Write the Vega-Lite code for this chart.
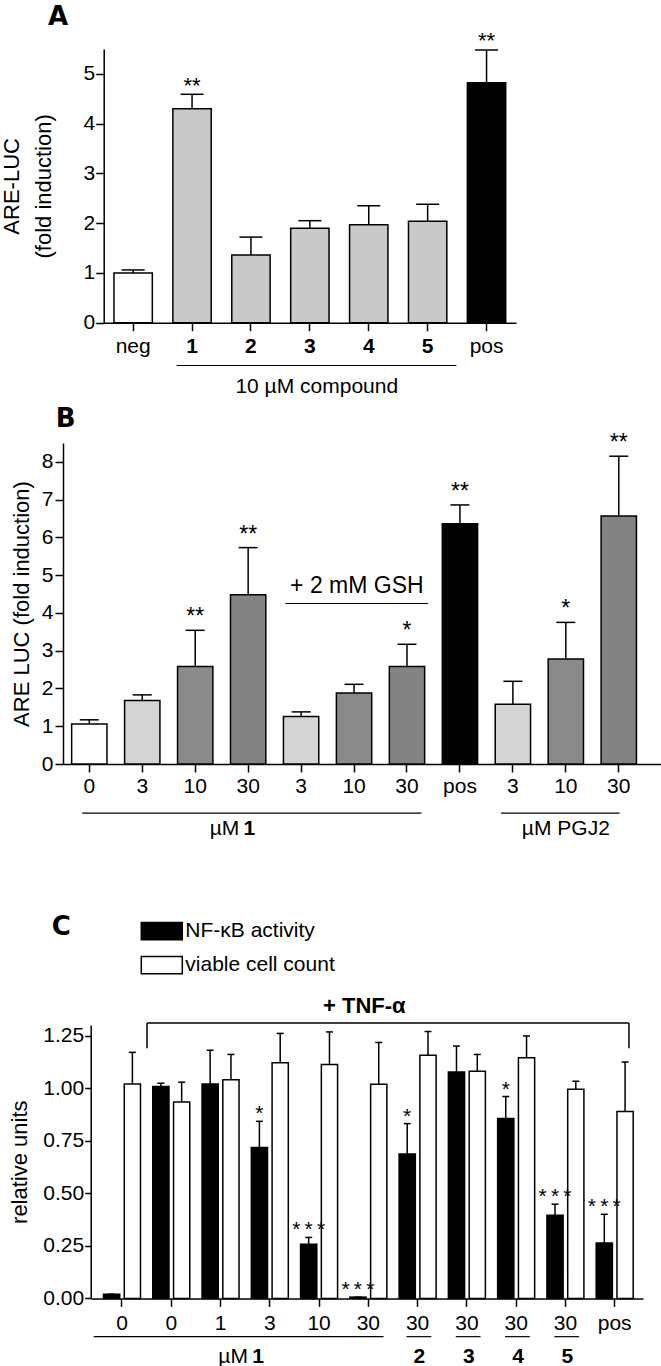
{
"$schema":"https://vega.github.io/schema/vega-lite/v6.json",
"background":"white",
"padding":{"left":0,"top":4,"right":0,"bottom":0},
"config":{
 "font":"Liberation Sans",
 "view":{"stroke":null},
 "axis":{"domainColor":"#000","domainWidth":1.5,"tickColor":"#000","tickWidth":1.5,"tickSize":8,"labelColor":"#000","labelFont":"Liberation Sans","labelFontSize":21,"titleFont":"Liberation Sans","titleFontSize":22,"titleFontWeight":"normal","titleColor":"#000","grid":false,"labelAngle":0,"labelOverlap":false},
 "title":{"font":"DejaVu Sans","fontSize":26,"fontWeight":"bold","color":"#000","anchor":"start","frame":"group"},
 "text":{"font":"Liberation Sans","color":"#000"},
 "rule":{"color":"#000","strokeWidth":1.5},
 "tick":{"color":"#000","thickness":1.5,"opacity":1}
},
"resolve":{"scale":{"color":"independent"},"legend":{"color":"independent"}},
"datasets":{
 "A":[
  {"cat":"neg","kind":"neg","value":1.00,"err":1.06,"sig":""},
  {"cat":"1","kind":"cmp","value":4.30,"err":4.59,"sig":"**"},
  {"cat":"2","kind":"cmp","value":1.36,"err":1.72,"sig":""},
  {"cat":"3","kind":"cmp","value":1.90,"err":2.05,"sig":""},
  {"cat":"4","kind":"cmp","value":1.97,"err":2.35,"sig":""},
  {"cat":"5","kind":"cmp","value":2.04,"err":2.38,"sig":""},
  {"cat":"pos","kind":"pos","value":4.82,"err":5.48,"sig":"**"}
 ],
 "B":[
  {"cat":"a|0","kind":"0","value":1.06,"err":1.17,"sig":""},
  {"cat":"a|3","kind":"3","value":1.68,"err":1.83,"sig":""},
  {"cat":"a|10","kind":"10","value":2.58,"err":3.54,"sig":"**"},
  {"cat":"a|30","kind":"30","value":4.48,"err":5.73,"sig":"**"},
  {"cat":"g|3","kind":"3","value":1.26,"err":1.38,"sig":""},
  {"cat":"g|10","kind":"10","value":1.88,"err":2.11,"sig":""},
  {"cat":"g|30","kind":"30","value":2.58,"err":3.17,"sig":"*"},
  {"cat":"pos|pos","kind":"pos","value":6.36,"err":6.86,"sig":"**"},
  {"cat":"p|3","kind":"3","value":1.58,"err":2.19,"sig":""},
  {"cat":"p|10","kind":"10","value":2.78,"err":3.75,"sig":"*"},
  {"cat":"p|30","kind":"30","value":6.57,"err":8.15,"sig":"**"}
 ],
 "C":[
  {"grp":"n|0","series":"NF-κB activity","value":0.02,"err":0.02,"sig":""},
  {"grp":"n|0","series":"viable cell count","value":1.02,"err":1.17,"sig":""},
  {"grp":"t|0","series":"NF-κB activity","value":1.007,"err":1.023,"sig":""},
  {"grp":"t|0","series":"viable cell count","value":0.934,"err":1.028,"sig":""},
  {"grp":"t|1","series":"NF-κB activity","value":1.02,"err":1.18,"sig":""},
  {"grp":"t|1","series":"viable cell count","value":1.04,"err":1.16,"sig":""},
  {"grp":"t|3","series":"NF-κB activity","value":0.717,"err":0.842,"sig":"*"},
  {"grp":"t|3","series":"viable cell count","value":1.12,"err":1.26,"sig":""},
  {"grp":"t|10","series":"NF-κB activity","value":0.257,"err":0.29,"sig":"*\u2009*\u2009*"},
  {"grp":"t|10","series":"viable cell count","value":1.112,"err":1.267,"sig":""},
  {"grp":"t|30","series":"NF-κB activity","value":0.006,"err":0.006,"sig":"*\u2009*\u2009*"},
  {"grp":"t|30","series":"viable cell count","value":1.018,"err":1.217,"sig":""},
  {"grp":"2|30","series":"NF-κB activity","value":0.687,"err":0.831,"sig":"*"},
  {"grp":"2|30","series":"viable cell count","value":1.156,"err":1.269,"sig":""},
  {"grp":"3|30","series":"NF-κB activity","value":1.077,"err":1.2,"sig":""},
  {"grp":"3|30","series":"viable cell count","value":1.08,"err":1.16,"sig":""},
  {"grp":"4|30","series":"NF-κB activity","value":0.856,"err":0.96,"sig":"*"},
  {"grp":"4|30","series":"viable cell count","value":1.144,"err":1.248,"sig":""},
  {"grp":"5|30","series":"NF-κB activity","value":0.395,"err":0.448,"sig":"*\u2009*\u2009*"},
  {"grp":"5|30","series":"viable cell count","value":0.994,"err":1.033,"sig":""},
  {"grp":"pos|pos","series":"NF-κB activity","value":0.263,"err":0.4,"sig":"*\u2009*\u2009*"},
  {"grp":"pos|pos","series":"viable cell count","value":0.889,"err":1.124,"sig":""}
 ]
},
"spacing":70,
"vconcat":[
 {"spacing":8,"resolve":{"scale":{"color":"independent"},"legend":{"color":"independent"}},"vconcat":[
  {
   "width":453,"height":273.7,
   "title":{"text":"A","dx":-15,"offset":0},
   "data":{"name":"A"},
   "layer":[
    {"mark":{"type":"bar","stroke":"#000","strokeWidth":1.5},
     "encoding":{
      "x":{"field":"cat","type":"nominal",
        "scale":{"domain":["neg","1","2","3","4","5","pos"],"range":[40.7,453],"paddingInner":0.349,"paddingOuter":0.1745},
        "axis":{"title":null,"labelPadding":5,"labelFontWeight":{"condition":{"test":"indexof(['1','2','3','4','5'], datum.value) >= 0","value":"bold"},"value":"normal"}}},
      "y":{"field":"value","type":"quantitative",
        "scale":{"domain":[0,5.5],"nice":false},
        "axis":{"title":["ARE-LUC","(fold induction)"],"offset":-40.7,"values":[0,1,2,3,4,5],"titleX":-85.4,"titleBaseline":"alphabetic","titleLineHeight":32,"labelPadding":1}},
      "color":{"field":"kind","type":"nominal","scale":{"domain":["neg","cmp","pos"],"range":["#ffffff","#c9c9c9","#000000"]},"legend":null}}},
    {"mark":"rule","encoding":{"x":{"field":"cat","type":"nominal"},"y":{"field":"value","type":"quantitative"},"y2":{"field":"err"}}},
    {"mark":{"type":"tick","size":23},"encoding":{"x":{"field":"cat","type":"nominal"},"y":{"field":"err","type":"quantitative"}}},
    {"transform":[{"filter":"datum.sig != ''"}],"mark":{"type":"text","fontSize":22,"baseline":"alphabetic","dy":-1.5},"encoding":{"x":{"field":"cat","type":"nominal"},"y":{"field":"err","type":"quantitative"},"text":{"field":"sig"}}},
    {"data":{"values":[{"from":"1","to":"5"}]},"mark":{"type":"rule","strokeWidth":1.2},"encoding":{"x":{"field":"from","type":"nominal","bandPosition":0.1},"x2":{"field":"to","bandPosition":1.25},"y":{"datum":-0.86}}},
    {"data":{"values":[{"mid":"3","label":"10 µM compound"}]},"mark":{"type":"text","fontSize":21,"baseline":"middle"},"encoding":{"x":{"field":"mid","type":"nominal","bandPosition":0.68},"y":{"datum":-1.30},"text":{"field":"label"}}}
   ]
  },
  {
   "width":601,"height":321,
   "title":{"text":"B","dx":-7.3,"offset":0},
   "data":{"name":"B"},
   "layer":[
    {"mark":{"type":"bar","stroke":"#000","strokeWidth":1.5},
     "encoding":{
      "x":{"field":"cat","type":"nominal",
        "scale":{"domain":["a|0","a|3","a|10","a|30","g|3","g|10","g|30","pos|pos","p|3","p|10","p|30"],"paddingInner":0.333,"paddingOuter":0.342,"align":0.239},
        "axis":{"title":null,"labelExpr":"split(datum.value,'|')[1]","labelPadding":3}},
      "y":{"field":"value","type":"quantitative",
        "scale":{"domain":[0,8.5],"nice":false},
        "axis":{"title":"ARE LUC (fold induction)","values":[0,1,2,3,4,5,6,7,8],"titleX":-35,"titleBaseline":"alphabetic","labelPadding":2}},
      "color":{"field":"kind","type":"nominal","scale":{"domain":["0","3","10","30","pos"],"range":["#ffffff","#d4d4d4","#8a8a8a","#838383","#000000"]},"legend":null}}},
    {"mark":"rule","encoding":{"x":{"field":"cat","type":"nominal"},"y":{"field":"value","type":"quantitative"},"y2":{"field":"err"}}},
    {"mark":{"type":"tick","size":19},"encoding":{"x":{"field":"cat","type":"nominal"},"y":{"field":"err","type":"quantitative"}}},
    {"transform":[{"filter":"datum.sig != ''"}],"mark":{"type":"text","fontSize":23,"baseline":"alphabetic","dy":-6},"encoding":{"x":{"field":"cat","type":"nominal"},"y":{"field":"err","type":"quantitative"},"text":{"field":"sig"}}},
    {"data":{"values":[{"at":"g|10","label":"+ 2 mM GSH"}]},"mark":{"type":"text","fontSize":23,"baseline":"middle"},"encoding":{"x":{"field":"at","type":"nominal","bandPosition":0.58},"y":{"datum":4.72},"text":{"field":"label"}}},
    {"data":{"values":[{"from":"g|3","to":"g|30"}]},"mark":{"type":"rule","strokeWidth":1.2},"encoding":{"x":{"field":"from","type":"nominal","bandPosition":0.055},"x2":{"field":"to","bandPosition":1.10},"y":{"datum":4.25}}},
    {"data":{"values":[{"from":"a|0","to":"g|30"}]},"mark":{"type":"rule","strokeWidth":1.2},"encoding":{"x":{"field":"from","type":"nominal","bandPosition":0.30},"x2":{"field":"to","bandPosition":0.91},"y":{"datum":-1.30}}},
    {"data":{"values":[{"at":"a|30","label":"µM"}]},"mark":{"type":"text","fontSize":21,"baseline":"middle","align":"right"},"encoding":{"x":{"field":"at","type":"nominal","bandPosition":0.25},"y":{"datum":-1.72},"text":{"field":"label"}}},
    {"data":{"values":[{"at":"a|30","label":"1"}]},"mark":{"type":"text","fontSize":21,"baseline":"middle","align":"left","fontWeight":"bold"},"encoding":{"x":{"field":"at","type":"nominal","bandPosition":0.37},"y":{"datum":-1.72},"text":{"field":"label"}}},
    {"data":{"values":[{"from":"p|3","to":"p|30"}]},"mark":{"type":"rule","strokeWidth":1.2},"encoding":{"x":{"field":"from","type":"nominal","bandPosition":0.166},"x2":{"field":"to","bandPosition":0.52},"y":{"datum":-1.30}}},
    {"data":{"values":[{"at":"p|10","label":"µM PGJ2"}]},"mark":{"type":"text","fontSize":21,"baseline":"middle"},"encoding":{"x":{"field":"at","type":"nominal","bandPosition":0.5},"y":{"datum":-1.72},"text":{"field":"label"}}}
   ]
  }
 ]},
 {
  "width":580,"height":273.4,
  "title":{"text":"C","dx":-11.3,"offset":-30},
  "data":{"name":"C"},
  "layer":[
   {"mark":{"type":"bar","stroke":"#000","strokeWidth":1.5},
    "encoding":{
     "x":{"field":"grp","type":"nominal",
       "scale":{"domain":["n|0","t|0","t|1","t|3","t|10","t|30","2|30","3|30","4|30","5|30","pos|pos"],"range":[27.7,580],"paddingInner":0.249,"paddingOuter":0.2295,"align":0.566},
       "axis":{"title":null,"labelExpr":"split(datum.value,'|')[1]","labelPadding":6}},
     "xOffset":{"field":"series","type":"nominal","scale":{"domain":["NF-κB activity","viable cell count"],"paddingInner":0.22,"paddingOuter":0}},
     "y":{"field":"value","type":"quantitative",
       "scale":{"domain":[0,1.3],"nice":false},
       "axis":{"title":"relative units","offset":-27.7,"values":[0,0.25,0.5,0.75,1,1.25],"format":".2f","titleX":-64.7,"titleBaseline":"alphabetic","tickSize":6,"labelPadding":1}},
     "color":{"field":"series","type":"nominal","scale":{"domain":["NF-κB activity","viable cell count"],"range":["#000000","#ffffff"]},
       "legend":{"orient":"none","legendX":77.3,"legendY":-115.4,"title":null,"symbolType":"M-1,-0.42H1V0.42H-1Z","symbolSize":1681,"symbolStrokeColor":"#000","symbolStrokeWidth":1.5,"symbolOpacity":1,"labelFontSize":21,"labelFont":"Liberation Sans","labelColor":"#000","labelOffset":2,"rowPadding":-1,"padding":0}}}},
   {"mark":"rule","encoding":{"x":{"field":"grp","type":"nominal"},"xOffset":{"field":"series","type":"nominal"},"y":{"field":"value","type":"quantitative"},"y2":{"field":"err"}}},
   {"mark":{"type":"tick","size":7},"encoding":{"x":{"field":"grp","type":"nominal"},"xOffset":{"field":"series","type":"nominal"},"y":{"field":"err","type":"quantitative"}}},
   {"transform":[{"filter":"datum.sig != ''"}],"mark":{"type":"text","fontSize":21,"baseline":"alphabetic","dy":-1},"encoding":{"x":{"field":"grp","type":"nominal"},"xOffset":{"field":"series","type":"nominal"},"y":{"field":"err","type":"quantitative"},"text":{"field":"sig"}}},
   {"data":{"values":[{"from":"n|0","to":"pos|pos"}]},"mark":{"type":"rule","strokeWidth":1.5},"encoding":{"x":{"field":"from","type":"nominal","bandPosition":1.176},"x2":{"field":"to","bandPosition":0.886},"y":{"datum":1.31}}},
   {"data":{"values":[{"from":"n|0","to":"pos|pos"}]},"mark":{"type":"rule","strokeWidth":1.5},"encoding":{"x":{"field":"from","type":"nominal","bandPosition":1.176},"y":{"datum":1.31},"y2":{"datum":1.19}}},
   {"data":{"values":[{"from":"n|0","to":"pos|pos"}]},"mark":{"type":"rule","strokeWidth":1.5},"encoding":{"x":{"field":"to","type":"nominal","bandPosition":0.886},"y":{"datum":1.31},"y2":{"datum":1.19}}},
   {"data":{"values":[{"at":"t|30","label":"+ TNF-α"}]},"mark":{"type":"text","fontSize":22,"fontWeight":"bold","baseline":"middle"},"encoding":{"x":{"field":"at","type":"nominal","bandPosition":0.39},"y":{"datum":1.389},"text":{"field":"label"}}},
   {"data":{"values":[{"from":"n|0","to":"t|30"}]},"mark":{"type":"rule","strokeWidth":1.2},"encoding":{"x":{"field":"from","type":"nominal","bandPosition":-0.265},"x2":{"field":"to","bandPosition":0.91},"y":{"datum":-0.182}}},
   {"data":{"values":[{"at":"t|1","label":"µM"}]},"mark":{"type":"text","fontSize":21,"baseline":"middle","align":"right"},"encoding":{"x":{"field":"at","type":"nominal","bandPosition":1.24},"y":{"datum":-0.278},"text":{"field":"label"}}},
   {"data":{"values":[{"at":"t|1","label":"1"}]},"mark":{"type":"text","fontSize":21,"baseline":"middle","align":"left","fontWeight":"bold"},"encoding":{"x":{"field":"at","type":"nominal","bandPosition":1.36},"y":{"datum":-0.278},"text":{"field":"label"}}},
   {"data":{"values":[{"g":"2|30"},{"g":"3|30"},{"g":"4|30"},{"g":"5|30"}]},"mark":{"type":"rule","strokeWidth":1.2},"encoding":{"x":{"field":"g","type":"nominal","bandPosition":0.2},"x2":{"field":"g","bandPosition":0.87},"y":{"datum":-0.182}}},
   {"data":{"values":[{"g":"2|30","label":"2"},{"g":"3|30","label":"3"},{"g":"4|30","label":"4"},{"g":"5|30","label":"5"}]},"mark":{"type":"text","fontSize":21,"fontWeight":"bold","baseline":"middle"},"encoding":{"x":{"field":"g","type":"nominal","bandPosition":0.55},"y":{"datum":-0.278},"text":{"field":"label"}}}
  ]
 }
]
}
